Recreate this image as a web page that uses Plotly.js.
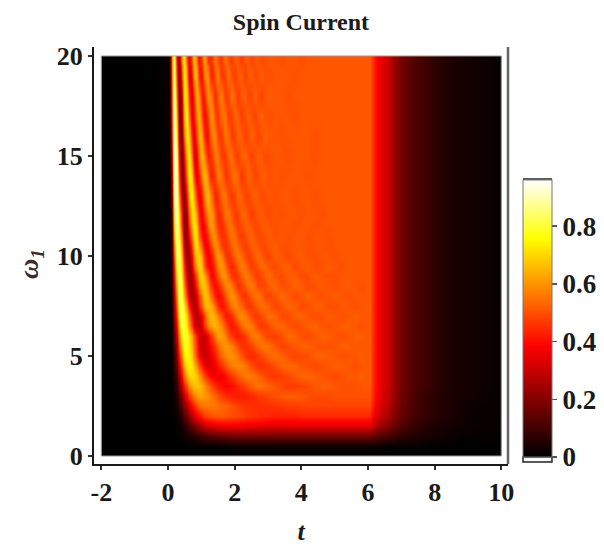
<!DOCTYPE html>
<html><head><meta charset="utf-8">
<script src="https://cdn.plot.ly/plotly-3.0.1.min.js"></script>
<style>html,body{margin:0;padding:0;background:#fff}</style></head>
<body><div id="chart" style="width:604px;height:551px"></div>
<script>
const T=[-2,0,.05,.1,.15,.2,.25,.3,.35,.4,.45,.5,.55,.6,.65,.7,.75,.8,.85,.9,.95,1,1.05,1.1,1.15,1.2,
1.3,1.4,1.5,1.6,1.7,1.8,1.9,2,2.1,2.2,2.3,2.4,2.5,2.6,2.7,2.8,2.9,3,
3.2,3.4,3.6,3.8,4,4.2,4.4,4.6,4.8,5,5.2,5.4,5.6,5.8,6,
6.07,6.15,6.3,6.5,7,7.5,8,8.5,9,9.5,10];
const W=[0,.5,1,1.5,2,2.5,3,3.5,4,4.5,5,5.5,6,6.5,7,7.5,8,8.5,9,9.5,10,10.5,11,11.5,12,13,14,15,16,17,18,19,20];
const w0=[0,0,0,0,0,0,0,0,0,0,0,0,0,0,0,0,0,0,0,0,0,0,0,0,0,0,
0,0,0,0,0,0,0,0,0,0,0,0,0,0,0,0,0,0,
0,0,0,0,0,0,0,0,0,0,0,0,0,0,0,
0,0,0,0,0,0,0,0,0,0,0];
const w05=[0,0,0,0,0,0,0,0,0,0,0,0,0,0,0,0,0,0,1,1,1,1,1,1,1,1,
1,1,1,1,1,1,2,2,2,2,2,2,2,2,2,2,2,2,
2,2,2,2,2,2,2,2,2,2,2,2,2,2,2,
2,2,2,1,1,1,0,0,0,0,0];
const w1=[0,0,0,0,0,0,0,0,1,1,2,2,3,3,4,5,5,6,7,8,8,9,10,10,11,12,
13,13,14,15,15,16,16,16,17,17,17,17,17,17,17,17,17,17,
17,17,17,17,17,17,17,17,17,17,17,17,17,17,17,
17,15,13,11,7,5,3,2,1,1,0];
const w15=[0,0,0,0,0,0,1,1,2,3,4,6,8,10,12,14,16,18,20,22,24,26,27,29,30,31,
33,34,35,36,36,36,36,36,36,36,36,35,35,35,35,35,34,34,
34,34,34,34,34,34,34,34,34,34,34,34,34,34,34,
34,29,25,20,12,7,4,3,2,1,1];
const w2=[0,0,0,0,0,1,2,3,5,7,10,13,16,20,23,27,30,33,36,39,41,43,45,47,48,49,
50,51,51,51,51,50,50,49,49,48,47,46,46,45,45,44,44,44,
43,43,43,43,44,44,44,44,44,44,44,44,44,44,44,
44,37,32,26,15,9,6,4,2,1,1];
const w25=[0,0,0,0,1,2,3,6,9,13,17,21,25,30,34,38,42,45,48,51,53,54,55,56,56,56,
56,56,55,54,53,52,50,49,48,47,46,46,45,45,45,45,45,45,
46,46,47,47,48,48,48,48,48,48,48,48,48,48,48,
48,41,35,29,16,10,6,4,2,1,1];
const w3=[0,0,0,0,1,3,5,9,14,19,25,31,37,42,47,51,55,58,60,61,62,62,62,61,60,59,
56,53,50,47,45,44,43,42,42,42,42,43,44,45,46,47,48,49,
50,51,52,52,51,50,49,49,49,50,50,50,50,50,50,
50,43,36,30,17,10,6,4,3,2,1];
const w35=[0,0,0,0,2,4,8,13,20,28,36,43,50,56,60,63,66,67,67,67,66,64,62,59,56,54,
49,45,42,40,39,39,40,42,44,46,48,50,52,54,55,55,54,53,
51,49,47,47,48,49,51,52,52,51,50,50,50,51,51,
51,44,37,31,17,11,7,4,3,2,1];
const w4=[0,0,0,1,2,6,11,18,27,37,47,55,62,67,70,71,71,70,67,64,60,56,52,48,45,42,
38,36,36,37,40,43,46,49,52,54,56,57,56,55,53,51,49,47,
46,47,49,51,53,53,52,51,50,49,50,51,51,52,51,
51,44,37,31,17,11,7,4,3,2,1];
const w45=[0,0,0,1,3,8,15,24,35,47,58,66,71,74,74,73,70,65,60,54,49,44,40,37,34,33,
34,37,41,45,49,53,56,58,59,58,56,53,50,47,46,45,46,47,
50,53,54,53,51,50,49,50,51,52,52,51,50,51,51,
51,44,37,31,17,11,7,4,3,2,1];
const w5=[0,0,0,1,4,10,19,31,44,57,67,73,76,76,74,69,63,56,49,43,37,33,31,30,31,32,
37,42,48,53,57,60,60,58,55,51,47,45,44,45,47,49,51,53,
55,53,50,48,49,50,52,53,52,51,50,51,51,52,51,
51,44,37,31,17,11,7,4,3,2,1];
const w55=[0,0,0,1,5,13,24,37,52,65,73,78,78,75,72,66,60,53,46,40,34,31,30,31,33,36,
41,47,53,58,61,60,57,53,49,46,45,46,48,51,54,55,56,55,
51,48,49,51,53,52,51,50,50,51,52,52,51,51,51,
51,44,37,31,17,11,7,4,3,2,1];
const w6=[0,0,0,2,7,16,29,45,60,72,78,80,79,75,70,64,57,50,43,37,32,29,29,31,34,38,
47,56,62,62,58,52,47,43,42,44,47,51,55,57,56,53,50,48,
47,50,54,53,50,49,51,53,52,51,50,51,52,52,51,
51,44,37,31,17,11,7,4,3,2,1];
const w65=[0,0,0,2,8,20,35,53,69,80,82,79,73,66,58,49,41,34,29,28,29,33,39,46,52,58,
63,65,63,58,51,44,41,43,47,53,57,58,56,52,48,46,47,49,
53,54,51,49,50,52,53,51,50,51,52,52,51,50,51,
51,44,37,31,17,11,7,4,3,2,1];
const w7=[0,0,0,3,10,24,42,62,77,83,82,77,70,61,52,43,35,29,27,28,32,37,43,50,56,62,
66,63,57,50,42,41,45,51,57,59,57,53,49,46,47,49,52,55,
53,49,49,52,53,51,49,50,52,51,50,51,52,51,51,
51,44,37,31,17,11,7,4,3,2,1];
const w75=[0,0,0,3,12,28,49,70,82,84,79,71,60,50,40,32,27,26,30,36,44,51,58,63,66,66,
63,53,45,40,43,49,55,59,57,53,49,46,47,50,53,55,54,52,
48,50,53,52,49,50,52,52,50,50,52,51,50,51,51,
51,44,37,31,17,11,7,4,3,2,1];
const w8=[0,0,0,4,14,32,56,76,84,82,74,62,49,38,30,26,25,28,34,41,49,57,63,67,66,63,
53,43,39,42,49,56,60,57,52,47,45,48,52,55,56,53,49,48,
51,54,52,49,51,53,51,50,51,52,51,50,51,51,51,
51,44,37,31,17,11,7,4,3,2,1];
const w85=[0,0,0,4,16,37,63,81,85,79,68,55,42,31,25,24,27,34,43,52,61,66,68,67,63,57,
45,39,42,49,57,60,56,50,45,47,51,55,56,53,49,48,49,52,
54,50,50,53,52,49,50,52,51,50,51,52,51,50,51,
51,44,37,31,17,11,7,4,3,2,1];
const w9=[0,0,0,5,18,42,70,84,85,75,62,48,35,26,23,26,32,41,51,60,67,69,68,63,56,49,
38,42,51,59,60,54,47,44,47,52,57,56,52,48,47,49,52,54,
51,49,52,52,49,50,52,51,50,50,51,51,51,51,51,
51,44,37,31,17,11,7,4,3,2,1];
const w95=[0,0,0,5,21,48,76,87,83,71,57,42,30,23,23,31,41,54,63,69,70,66,58,50,43,39,
39,48,58,61,55,47,44,47,53,57,55,50,47,48,51,54,53,51,
49,52,52,49,51,52,50,50,52,51,50,51,51,51,51,
51,44,37,31,17,11,7,4,3,2,1];
const w10=[0,0,1,6,24,55,82,88,83,68,50,34,24,22,27,37,48,60,68,71,68,62,54,46,40,37,
42,54,62,57,48,44,48,54,57,54,49,47,49,52,54,52,49,48,
52,51,49,51,52,50,50,51,51,50,51,51,51,51,51,
51,44,37,31,17,11,7,4,3,2,1];
const w105=[0,0,1,7,27,62,85,88,79,62,44,29,22,23,31,44,57,67,71,69,60,52,44,39,37,39,
50,60,57,48,44,47,52,56,53,49,47,49,52,53,51,49,49,51,
52,50,50,51,51,50,51,51,50,51,51,51,51,51,51,
51,44,37,31,17,11,7,4,3,2,1];
const w11=[0,0,1,8,30,70,88,87,74,55,37,24,21,29,40,54,66,72,70,62,52,43,38,37,41,47,
58,59,51,45,46,51,55,54,49,47,49,52,53,50,49,49,51,52,
50,51,50,51,51,50,51,51,50,51,51,51,51,51,51,
51,44,37,31,17,11,7,4,3,2,1];
const w115=[0,0,1,9,35,76,91,85,70,49,31,21,23,34,48,62,71,73,67,57,46,38,36,40,47,55,
62,54,46,44,49,55,55,50,47,49,52,53,51,49,49,51,52,51,
50,51,51,50,51,51,50,51,51,51,51,51,51,51,51,
51,44,37,31,17,11,7,4,3,2,1];
const w12=[0,0,1,10,40,82,92,83,66,44,27,19,27,40,56,68,74,69,60,49,41,37,41,47,55,62,
61,51,43,47,55,56,51,46,48,53,53,50,47,49,52,52,50,49,
51,50,51,51,50,51,51,50,51,51,51,51,51,51,51,
51,44,37,31,17,11,7,4,3,2,1];
const w13=[0,0,1,14,50,90,93,78,55,32,19,22,37,54,69,75,71,60,47,38,36,41,50,58,64,66,
55,42,46,54,56,50,46,49,54,52,48,48,51,53,51,49,50,51,
50,51,51,50,51,51,50,51,51,51,51,51,51,51,51,
51,44,37,31,17,11,7,4,3,2,1];
const w14=[0,0,1,18,60,94,90,70,42,21,18,33,52,69,75,70,57,44,35,36,45,56,63,66,62,53,
42,48,57,55,46,46,53,56,52,46,49,54,51,48,49,52,52,50,
51,50,51,51,51,50,51,51,51,51,51,51,51,51,51,
51,44,37,31,17,11,7,4,3,2,1];
const w15b=[0,0,1,22,70,95,87,60,32,17,24,42,63,75,72,58,43,34,36,46,58,65,65,57,48,42,
46,57,56,47,46,53,55,48,47,52,54,50,48,50,53,51,49,50,
51,51,50,51,51,51,50,51,51,51,51,51,51,51,51,
51,44,37,31,17,11,7,4,3,2,1];
const w16=[0,0,2,28,80,94,78,48,23,18,35,58,73,74,64,47,35,36,47,59,65,62,53,44,39,42,
56,59,47,46,56,55,47,48,54,52,47,49,53,51,48,50,53,51,
51,50,51,51,51,51,50,51,51,51,51,51,51,51,51,
51,44,37,31,17,11,7,4,3,2,1];
const w17=[0,0,2,33,86,92,70,38,18,23,44,67,75,68,52,37,34,44,57,65,63,52,42,39,43,51,
61,49,45,55,56,47,47,54,52,47,50,53,50,48,51,53,50,50,
51,51,51,50,51,51,51,51,51,51,51,51,51,51,51,
51,44,37,31,17,11,7,4,3,2,1];
const w18=[0,0,2,38,90,88,60,28,17,29,54,74,70,58,42,33,38,50,64,65,55,45,39,44,54,61,
55,42,52,57,47,47,56,51,46,51,53,48,49,53,50,48,51,52,
51,51,50,51,51,51,51,51,51,51,51,51,51,51,51,
51,44,37,31,17,11,7,4,3,2,1];
const w19=[0,0,3,42,92,84,51,21,20,42,67,75,63,44,33,39,53,65,64,53,42,40,46,56,61,57,
42,51,58,46,47,56,50,46,52,52,47,51,52,49,50,52,50,50,
51,51,51,50,51,51,51,51,51,51,51,51,51,51,51,
51,44,37,31,17,11,7,4,3,2,1];
const w20=[0,0,3,45,93,80,43,17,27,55,75,71,53,37,35,48,63,67,56,43,40,47,57,62,54,44,
45,58,49,46,56,51,47,53,51,47,51,52,48,51,52,49,50,51,
51,50,51,51,50,51,51,51,51,51,51,51,51,51,51,
51,44,37,31,17,11,7,4,3,2,1];
const rows=[w0,w05,w1,w15,w2,w25,w3,w35,w4,w45,w5,w55,w6,w65,w7,w75,w8,w85,w9,w95,w10,w105,w11,w115,w12,w13,w14,w15b,w16,w17,w18,w19,w20];
const cbTicks=[0,.2,.4,.6,.8], cbText=['0','0.2','0.4','0.6','0.8'];
const xTicks=[-2,0,2,4,6,8,10], xText=['-2','0','2','4','6','8','10'];
const yTicks=[0,5,10,15,20], yText=['0','5','10','15','20'];

const edges=(a)=>{const e=[a[0]];for(let i=1;i<a.length;i++)e.push((a[i-1]+a[i])/2);e.push(a[a.length-1]);return e;};
const W_=604,H_=551,L=94,R=508,Tp=47,B=464;
const px=(x)=>(x-L)/(R-L), py=(y)=>(B-y)/(B-Tp);
const serif='"Liberation Serif","Times New Roman",serif';
const ink='#1a1a1a';
const shape=(x0,y0,x1,y1,c,f,w)=>({type:'rect',xref:'paper',yref:'paper',x0:px(x0),x1:px(x1),y0:py(y0),y1:py(y1),line:{color:c,width:w},fillcolor:f,layer:'above'});

Plotly.newPlot('chart',[{
  type:'heatmap',x:edges(T),y:edges(W),z:rows.map(r=>r.map(v=>v/100)),
  zsmooth:'best',zmin:0,zmax:.96,hoverinfo:'skip',
  colorscale:[[0,'#000000'],[.4,'#ff0000'],[.79,'#ffff00'],[1,'#ffffff']],
  colorbar:{x:px(523),xanchor:'left',xpad:0,thickness:29,thicknessmode:'pixels',
    lenmode:'pixels',len:277,y:py(457),yanchor:'bottom',ypad:0,
    outlinecolor:'#777',outlinewidth:1,ticks:'outside',ticklen:5,tickcolor:'#555',tickwidth:1.5,
    tickmode:'array',tickvals:cbTicks,ticktext:cbText,
    tickfont:{family:serif,size:27,color:ink,weight:'bold'}}
}],{
  width:W_,height:H_,paper_bgcolor:'#fff',plot_bgcolor:'#fff',showlegend:false,
  margin:{l:L,r:W_-R,t:Tp,b:H_-B,pad:0,autoexpand:false},
  title:{text:'Spin Current',x:301/W_,xanchor:'center',y:1-22/H_,yanchor:'middle',
    font:{family:serif,size:24,color:ink,weight:'bold'}},
  xaxis:{range:[(L-168)/33.33,(R-168)/33.33],tickmode:'array',tickvals:xTicks,ticktext:xText,
    ticks:'outside',ticklen:4,tickwidth:2,tickcolor:'#333',showgrid:false,zeroline:false,
    showline:true,linecolor:ink,linewidth:2,
    tickfont:{family:serif,size:26,color:ink,weight:'bold'},
    title:{text:'t',standoff:16,font:{family:serif,size:26,color:ink,style:'italic',weight:'bold'}}},
  yaxis:{range:[(456-B)/20,(456-Tp)/20],tickmode:'array',tickvals:yTicks,ticktext:yText,
    ticks:'outside',ticklen:4,tickwidth:2,tickcolor:'#333',showgrid:false,zeroline:false,
    showline:true,linecolor:ink,linewidth:2,
    tickfont:{family:serif,size:26,color:ink,weight:'bold'}},
  annotations:[{xref:'paper',yref:'paper',x:px(30),y:py(264),xanchor:'center',yanchor:'middle',textangle:-90,showarrow:false,
    text:'ω<sub>1</sub>',font:{family:serif,size:28,color:'#3a2a2a',style:'italic',weight:'bold'}}],
  shapes:[
    shape(523,457,552,462,'#222','#fff',1.5),
    {type:'line',xref:'paper',yref:'paper',x0:px(523),x1:px(552),y0:py(179),y1:py(179),line:{color:'#222',width:1.5},layer:'above'},
    {type:'line',xref:'paper',yref:'paper',x0:1,x1:1,y0:0,y1:1,line:{color:'#666',width:2.5},layer:'above'},
    {type:'rect',xref:'x',yref:'y',x0:-2,x1:10,y0:0,y1:20,line:{color:'#999',width:1},layer:'above'}
  ]
},{displayModeBar:false,staticPlot:true});
</script></body></html>
